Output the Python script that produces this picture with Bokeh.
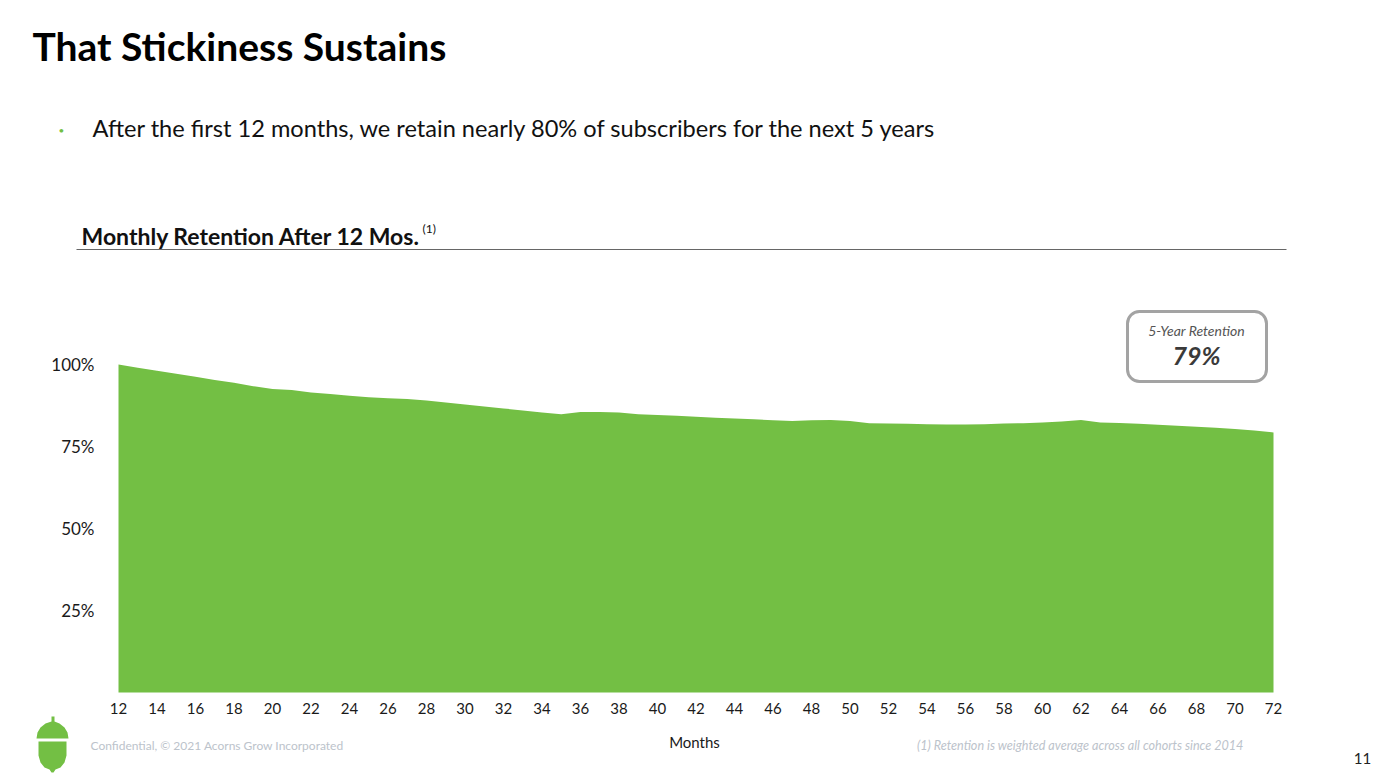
from bokeh.plotting import figure
from bokeh.models import Range1d, Label, BoxAnnotation, PolyAnnotation, ColumnDataSource
from bokeh.core.properties import value
from bokeh.embed import file_html
from bokeh.resources import INLINE

# ---------------- data ----------------
months = [12, 13, 14, 15, 16, 17, 18, 19, 20, 21, 22, 23, 24, 25, 26, 27, 28, 29, 30,
          31, 32, 33, 34, 35, 36, 37, 38, 39, 40, 41, 42, 43, 44, 45, 46, 47, 48, 49,
          50, 51, 52, 53, 54, 55, 56, 57, 58, 59, 60, 61, 62, 63, 64, 65, 66, 67, 68,
          69, 70, 71, 72]
retention = [100.0, 99.0, 98.1, 97.2, 96.3, 95.3, 94.4, 93.4, 92.5, 92.2, 91.5, 91.0,
             90.5, 90.0, 89.7, 89.5, 89.0, 88.4, 87.8, 87.2, 86.6, 86.0, 85.4, 84.8,
             85.5, 85.5, 85.4, 84.8, 84.6, 84.4, 84.1, 83.8, 83.5, 83.3, 83.0, 82.8,
             83.0, 83.1, 82.8, 82.1, 82.0, 81.9, 81.8, 81.7, 81.7, 81.8, 82.0, 82.1,
             82.3, 82.6, 83.1, 82.3, 82.2, 81.9, 81.6, 81.3, 81.0, 80.7, 80.3, 79.9, 79.3]
x_ticks = [12, 14, 16, 18, 20, 22, 24, 26, 28, 30, 32, 34, 36, 38, 40, 42, 44, 46, 48,
           50, 52, 54, 56, 58, 60, 62, 64, 66, 68, 70, 72]
y_ticks = [25, 50, 75, 100]
y_tick_labels = ["25%", "50%", "75%", "100%"]

title_text = "That Stickiness Sustains"
bullet_text = "After the first 12 months, we retain nearly 80% of subscribers for the next 5 years"
chart_title = "Monthly Retention After 12 Mos."
callout_label = "5-Year Retention"
callout_value = "79%"
x_label = "Months"
footer_text = "Confidential, \u00a9 2021 Acorns Grow Incorporated"
footnote_text = "(1) Retention is weighted average across all cohorts since 2014"
page_number = "11"

GREEN = "#73BF44"
FONT = "Lato"

# ---------------- layout ----------------
W, H = 1387, 780
X0, X1 = 118, 1273        # page px of month 12 and month 72
Y0, PX_PER_PCT = 692, 3.28  # page px of 0 %, px per 1 %
PX_PER_MONTH = (X1 - X0) / 60


def px(x):
    return 12 + (x - X0) / PX_PER_MONTH


def py(y):
    return (Y0 - y) / PX_PER_PCT


p = figure(width=W, height=H, output_backend="svg", toolbar_location=None,
           x_range=Range1d(px(0), px(W)), y_range=Range1d(py(H), py(0)),
           x_axis_location=None, y_axis_location=None, min_border=0)
p.title.visible = False
p.outline_line_color = None
p.xgrid.visible = False
p.ygrid.visible = False
p.background_fill_color = "white"
p.border_fill_color = "white"

# the retention area
p.varea(x=months, y1=0, y2=retention, fill_color=GREEN, fill_alpha=1.0)

# x tick labels
xsrc = ColumnDataSource(dict(x=x_ticks, y=[py(708)] * len(x_ticks),
                             t=[str(v) for v in x_ticks]))
p.text(x="x", y="y", text="t", source=xsrc, text_font=value(FONT),
       text_font_size="15px", text_color="#1a1a1a", text_align="center",
       text_baseline="middle")
# y tick labels
ysrc = ColumnDataSource(dict(x=[px(94)] * len(y_ticks), y=y_ticks, t=y_tick_labels))
p.text(x="x", y="y", text="t", source=ysrc, text_font=value(FONT),
       text_font_size="17px", text_color="#1a1a1a", text_align="right",
       text_baseline="middle")


def label(x, y, text, size, color="#111111", style="normal", align="left",
          baseline="middle"):
    p.add_layout(Label(x=px(x), y=py(y), text=text, text_font=FONT,
                       text_font_size=size, text_color=color,
                       text_font_style=style, text_align=align,
                       text_baseline=baseline))


label(694, 741, x_label, "15px", "#1a1a1a", align="center")

label(32, 45, title_text, "39px", "#000000", "bold")
label(61, 129, "\u2022", "10px", GREEN, align="center")
label(92, 127, bullet_text, "23.6px", "#111111")
label(81, 235, chart_title, "23px", "#111111", "bold")
label(422, 228, "(1)", "12px", "#111111")

# rule under the chart title
p.add_layout(BoxAnnotation(left=px(76), right=px(1286), top=py(248.5), bottom=py(249.6),
                           fill_color="#666666", fill_alpha=1.0, line_color=None))

# call-out box
p.add_layout(BoxAnnotation(left=px(1127), right=px(1266), top=py(311), bottom=py(381),
                           fill_color="white", fill_alpha=1.0, line_color="#a3a3a3",
                           line_alpha=1.0, line_width=3, border_radius=12))
label(1196, 330, callout_label, "14px", "#555555", "italic", align="center")
label(1196, 354, callout_value, "25px", "#3a3a3a", "bold italic", align="center")

# footer
label(90, 745, footer_text, "12px", "#bcc3cb")
label(1243, 745, footnote_text, "12.6px", "#bcc3cb", "italic", align="right")
label(1362, 758, page_number, "15px", "#222222", align="center")

# acorn logo (decoration)
cap_x = [36, 37, 40, 45, 51, 51, 54, 54, 59, 64, 67, 68]
cap_y = [738, 732, 727, 723, 721, 716, 716, 721, 723, 727, 732, 738]
body_x = [38, 66, 66, 64, 60, 55, 53, 51, 49, 44, 40, 38]
body_y = [741, 741, 755, 762, 767, 769, 772, 772, 769, 767, 762, 755]
p.add_layout(PolyAnnotation(xs=[px(v) for v in cap_x], ys=[py(v) for v in cap_y],
                            fill_color=GREEN, fill_alpha=1.0, line_color=None))
p.add_layout(PolyAnnotation(xs=[px(v) for v in body_x], ys=[py(v) for v in body_y],
                            fill_color=GREEN, fill_alpha=1.0, line_color=None))

open("out.html", "w").write(file_html(p, INLINE))
